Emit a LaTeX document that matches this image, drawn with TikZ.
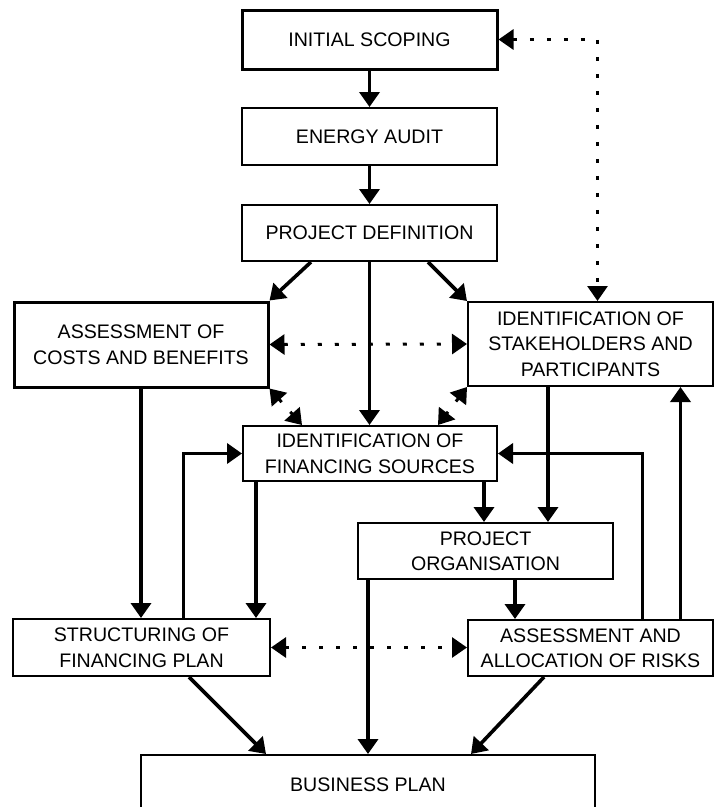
\documentclass[tikz,border=0pt]{standalone}
\usepackage{fontspec}
\setmainfont{Liberation Sans}
\usetikzlibrary{arrows.meta}

\tikzset{
    blk/.style={draw, line width=2pt, align=center, inner sep=0pt,
        font=\fontsize{19.6}{25.5}\selectfont},
    link/.style={line width=3.6pt, -{Triangle[length=15pt,width=20pt]}},
    dotlink/.style={line width=3pt, dash pattern=on 4pt off 13pt,
        {Triangle[length=15pt,width=20pt]}-{Triangle[length=15pt,width=20pt]}},
}

\begin{document}
\begin{tikzpicture}[x=1pt, y=-1pt]
    \useasboundingbox (0, 0) rectangle (715, 807);

    \node[blk, line width=3pt, minimum width=255pt, minimum height=59pt] (scope) at (369.5, 39.5) {INITIAL SCOPING};
    \node[blk, minimum width=255pt, minimum height=57pt] (audit) at (369.5, 136.5) {ENERGY AUDIT};
    \node[blk, minimum width=255pt, minimum height=56pt] (pdef) at (369.5, 233) {PROJECT DEFINITION};

    \node[blk, line width=3pt, minimum width=254pt, minimum height=85pt] (costs) at (141, 344.5) {ASSESSMENT OF\\COSTS AND BENEFITS};
    \node[blk, minimum width=245pt, minimum height=84pt] (stake) at (590.5, 344) {IDENTIFICATION OF\\STAKEHOLDERS AND\\PARTICIPANTS};
    \node[blk, minimum width=254pt, minimum height=55pt] (fsrc) at (370, 453.5) {IDENTIFICATION OF\\FINANCING SOURCES};
    \node[blk, minimum width=255pt, minimum height=56pt] (porg) at (485.5, 551) {PROJECT\\ORGANISATION};
    \node[blk, minimum width=257pt, minimum height=57pt] (fplan) at (141.5, 647.5) {STRUCTURING OF\\FINANCING PLAN};
    \node[blk, minimum width=245pt, minimum height=56pt] (risks) at (590.5, 648) {ASSESSMENT AND\\ALLOCATION OF RISKS};
    \node[blk, minimum width=454pt, minimum height=60pt] (bplan) at (368, 785) {BUSINESS PLAN};

    % main chain
    \draw[link] (scope) -- (audit);
    \draw[link] (audit) -- (pdef);
    \draw[link] ([xshift=70pt]pdef.south west) -- (costs.north east);
    \draw[link] ([xshift=-70pt]pdef.south east) -- (stake.north west);
    \draw[link] (pdef.south) -- (pdef.south |- fsrc.north);

    % feedback (dotted)
    \draw[dotlink] (scope.east) -| ([xshift=7pt]stake.north);
    \draw[dotlink] (costs.east) -- (stake.west);
    \draw[dotlink] (costs.south east) -- ([xshift=60pt]fsrc.north west);
    \draw[dotlink] (stake.south west) -- ([xshift=-60pt]fsrc.north east);
    \draw[dotlink] (fplan.east) -- (fplan.east -| risks.west);

    \draw[link] (costs.south) -- (costs.south |- fplan.north);
    \draw[link] ([xshift=42pt]fplan.north) |- (fsrc.west);
    \draw[link] ([xshift=14pt]fsrc.south west) -- ([xshift=14pt]fsrc.south west |- fplan.north);
    \draw[link] ([xshift=-14pt]fsrc.south east) -- ([xshift=-14pt]fsrc.south east |- porg.north);
    \draw[link] ([xshift=81pt]stake.south west) -- ([xshift=81pt]stake.south west |- porg.north);
    \draw[link] ([xshift=48pt]risks.north west |- porg.south) -- ([xshift=48pt]risks.north west);
    \draw[link] ([xshift=52pt]risks.north) |- (fsrc.east);
    \draw[link] ([xshift=90pt]risks.north) -- ([xshift=90pt]risks.north |- stake.south);

    % into the business plan
    \draw[link] ([xshift=11pt]porg.south west) -- ([xshift=11pt]porg.south west |- bplan.north);
    \draw[link] ([xshift=177pt]fplan.south west) -- ([xshift=126pt]bplan.north west);
    \draw[link] ([xshift=77pt]risks.south west) -- ([xshift=-125pt]bplan.north east);
\end{tikzpicture}
\end{document}
